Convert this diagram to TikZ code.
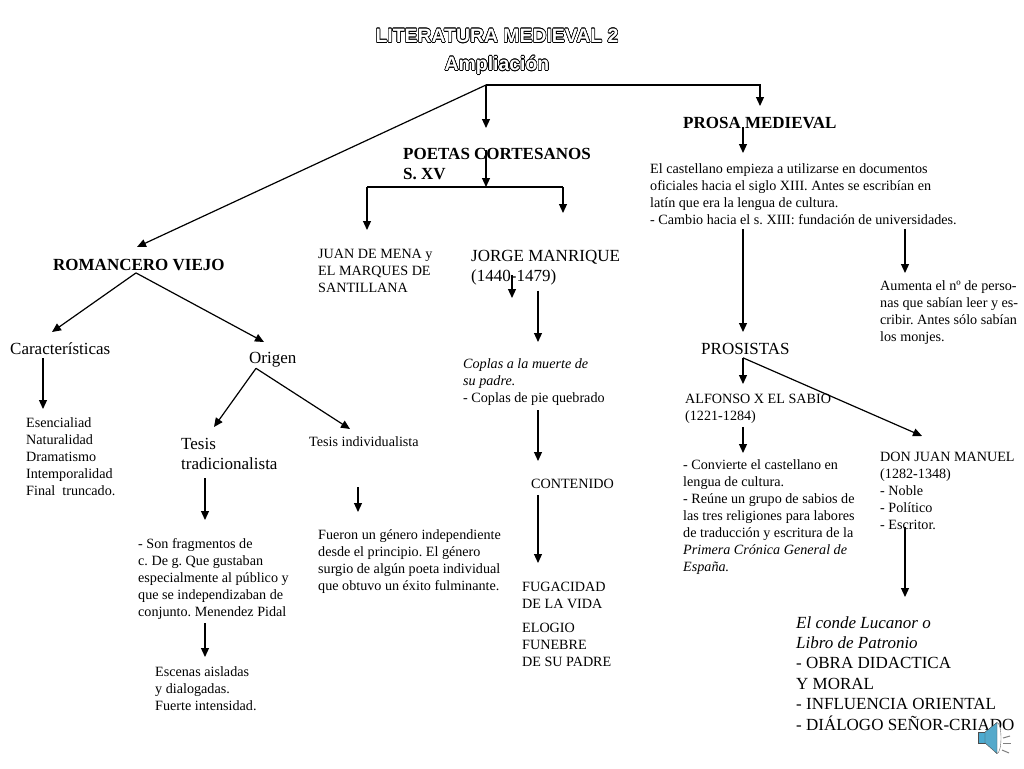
\documentclass[tikz,border=0pt]{standalone}
\usepackage{fontspec}
\usepackage{contour}
\setmainfont{Liberation Serif}
\newfontfamily\titlefont{Liberation Sans}
\contourlength{0.6pt}
\frenchspacing
\usetikzlibrary{arrows.meta,positioning}
\tikzset{
	texto/.style={anchor=north west,inner sep=0pt,align=left,font=\fontsize{14.15}{17}\selectfont},
	textog/.style={anchor=north west,inner sep=0pt,align=left,font=\fontsize{17}{20.4}\selectfont},
	negrita/.style={anchor=north west,inner sep=0pt,align=left,font=\fontsize{17}{20}\selectfont\bfseries},
	flecha/.style={-{Triangle[length=9pt,width=8pt]},line width=1.2pt},
	linea/.style={-,line width=1.2pt}
}
\begin{document}
\begin{tikzpicture}[x=1pt,y=-1pt]
			\useasboundingbox (0,0) rectangle (1024,768);
			\node (titulo) at (497,52) [align=center,inner sep=0pt,font=\fontsize{19.4}{28}\selectfont\titlefont\bfseries] {\contour{black}{\textcolor{white}{LITERATURA MEDIEVAL 2}}\\\contour{black}{\textcolor{white}{Ampliación}}};

			\node (romancero) at (53,259) [negrita] {ROMANCERO VIEJO};
			\node (poetas) at (403,148) [negrita] {POETAS CORTESANOS\\S. XV};
			\node (prosa) at (683,117) [negrita] {PROSA MEDIEVAL};
			\node (juan) at (318,249) [texto] {JUAN DE MENA y\\EL MARQUES DE\\SANTILLANA};
			\node (jorge) at (471,250) [textog] {JORGE MANRIQUE\\(1440-1479)};
			\node (caract) at (10,342) [textog] {Características};
			\node (origen) at (249,352) [textog] {Origen};
			\node (esencial) at (26,417) [texto] {Esencialiad\\Naturalidad\\Dramatismo\\Intemporalidad\\Final\ \ truncado.};
			\node (tradicional) at (181,438) [textog] {Tesis\\tradicionalista};
			\node (individual) at (309,436) [texto] {Tesis individualista};
			\node (fragmentos) at (138,538) [texto] {- Son fragmentos de\\c. De g. Que gustaban\\especialmente al público y\\que se independizaban de\\conjunto. Menendez Pidal};
			\node (escenas) at (155,666) [texto] {Escenas aisladas\\y dialogadas.\\Fuerte intensidad.};
			\node (fueron) at (318,529) [texto] {Fueron un género independiente\\desde el principio. El género\\surgio de algún poeta individual\\que obtuvo un éxito fulminante.};
			\node (coplas) at (463,358) [texto] {\textit{Coplas a la muerte de}\\\textit{su padre.}\\- Coplas de pie quebrado};
			\node (contenido) at (531,479) [texto] {CONTENIDO};
			\node (fugacidad) at (522,582) [texto] {FUGACIDAD\\DE LA VIDA};
			\node (elogio) at (522,623) [texto] {ELOGIO\\FUNEBRE\\DE SU PADRE};
			\node (castellano) at (650,163) [texto] {El castellano empieza a utilizarse en documentos\\oficiales hacia el siglo XIII. Antes se escribían en\\latín que era la lengua de cultura.\\- Cambio hacia el s. XIII: fundación de universidades.};
			\node (aumenta) at (880,280) [texto] {Aumenta el nº de perso-\\nas que sabían leer y es-\\cribir. Antes sólo sabían\\los monjes.};
			\node (prosistas) at (701,343) [textog] {PROSISTAS};
			\node (alfonso) at (685,394) [texto] {ALFONSO X EL SABIO\\(1221-1284)};
			\node (convierte) at (683,459) [texto] {- Convierte el castellano en\\lengua de cultura.\\- Reúne un grupo de sabios de\\las tres religiones para labores\\de traducción y escritura de la\\\textit{Primera Crónica General de}\\\textit{España.}};
			\node (donjuan) at (880,452) [texto] {DON JUAN MANUEL\\(1282-1348)\\- Noble\\- Político\\- Escritor.};
			\node (conde) at (796,616) [textog] {\textit{El conde Lucanor o}\\\textit{Libro de Patronio}\\- OBRA DIDACTICA\\Y MORAL\\- INFLUENCIA ORIENTAL\\- DIÁLOGO SEÑOR-CRIADO};

			\coordinate (raiz) at (486,85);
			\coordinate (ramal) at (486,187);
			\coordinate (ramali) at (367,187);
			\coordinate (ramald) at (563,187);
			\coordinate (jorgefin) at (512,298);

			\draw [flecha] (raiz) to ([shift={(84,-12)}]romancero.north west);
			\draw [flecha] (raiz) to ([shift={(83,-20)}]poetas.north west);
			\draw [flecha] (raiz) -| ([shift={(77,-11)}]prosa.north west);
			\draw [flecha] ([shift={(60,-2)}]prosa.south west) to ([shift={(93,-10)}]castellano.north west);
			\draw [flecha] ([shift={(83,2)}]poetas.north west) to (ramal);
			\draw [linea] (ramali) to (ramald);
			\draw [flecha] (ramali) to ([shift={(49,-19)}]juan.north west);
			\draw [flecha] (ramald) to ([shift={(92,-37)}]jorge.north west);
			\draw [flecha] ([shift={(41,25)}]jorge.north west) to (jorgefin);
			\draw [flecha] ([shift={(67,5)}]jorge.south west) to ([shift={(75,-16)}]coplas.north west);
			\draw [flecha] ([shift={(75,5)}]coplas.south west) to ([shift={(7,-18)}]contenido.north west);
			\draw [flecha] ([shift={(7,6)}]contenido.south west) to ([shift={(16,-19)}]fugacidad.north west);
			\draw [flecha] ([shift={(83,2)}]romancero.south west) to ([shift={(42,-10)}]caract.north west);
			\draw [flecha] ([shift={(83,2)}]romancero.south west) to ([shift={(15,-10)}]origen.north west);
			\draw [flecha] ([shift={(33,4)}]caract.south west) to ([shift={(17,-8)}]esencial.north west);
			\draw [flecha] ([shift={(7,1)}]origen.south west) to ([shift={(33,-11)}]tradicional.north west);
			\draw [flecha] ([shift={(7,1)}]origen.south west) to ([shift={(41,-7)}]individual.north west);
			\draw [flecha] ([shift={(24,8)}]tradicional.south west) to ([shift={(67,-18)}]fragmentos.north west);
			\draw [flecha] ([shift={(67,4)}]fragmentos.south west) to ([shift={(50,-9)}]escenas.north west);
			\draw [flecha] ([shift={(49,41)}]individual.south west) to ([shift={(40,-17)}]fueron.north west);
			\draw [flecha] ([shift={(93,5)}]castellano.south west) to ([shift={(42,-11)}]prosistas.north west);
			\draw [flecha] ([shift={(255,5)}]castellano.south west) to ([shift={(25,-7)}]aumenta.north west);
			\draw [flecha] ([shift={(42,3)}]prosistas.south west) to ([shift={(58,-10)}]alfonso.north west);
			\draw [flecha] ([shift={(42,3)}]prosistas.south west) to ([shift={(42,-16)}]donjuan.north west);
			\draw [flecha] ([shift={(58,3)}]alfonso.south west) to ([shift={(60,-6)}]convierte.north west);
			\draw [flecha] ([shift={(25,-3)}]donjuan.south west) to ([shift={(109,-19)}]conde.north west);

			\fill [cyan!65!gray,draw=black!70] (978,732) rectangle (985,743);
			\draw [black!60,fill=white] (997,738) ellipse (4 and 15.5);
			\fill [cyan!60!gray,draw=black!70] (985,732) -- (997,722.5) -- (997,753.5) -- (985,743) -- cycle;
			\draw [gray,line width=1pt] (1003,738) -- (1010,736);
			\draw [gray,line width=1pt] (1003,743) -- (1011,743);
			\draw [gray,line width=1pt] (1002,750) -- (1009,753);
		\end{tikzpicture}
\end{document}
